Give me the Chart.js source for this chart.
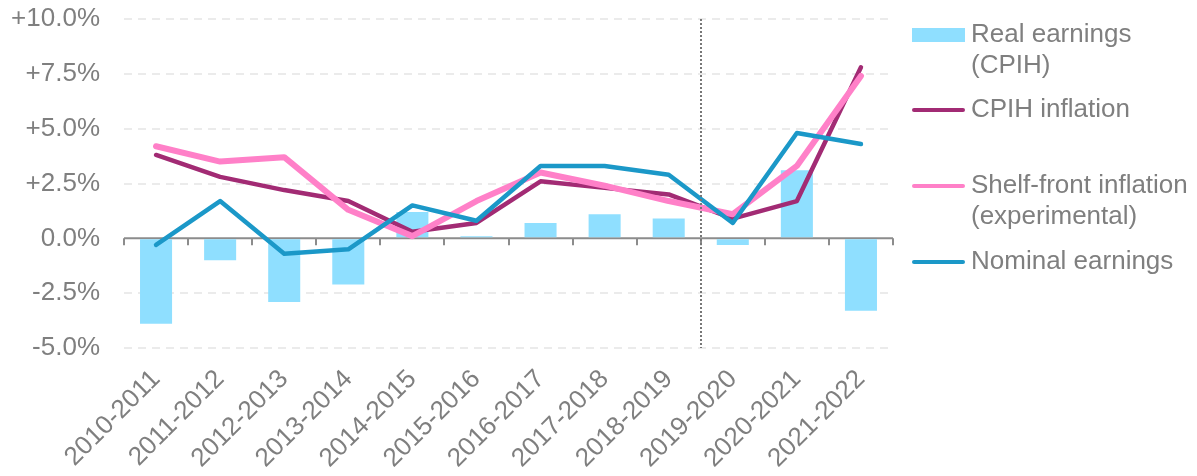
<!DOCTYPE html>
<html lang="en">
<head>
<meta charset="UTF-8">
<title>Earnings and inflation</title>
<script src="https://cdn.jsdelivr.net/npm/chart.js"></script>
<style>
  html, body { margin: 0; padding: 0; background: #fff; }
  #wrap { width: 1197px; height: 476px; }
</style>
</head>
<body>
<div id="wrap"><canvas id="chart" width="1197" height="476"></canvas></div>
<script>
const years = ['2010-2011', '2011-2012', '2012-2013', '2013-2014', '2014-2015', '2015-2016',
               '2016-2017', '2017-2018', '2018-2019', '2019-2020', '2020-2021', '2021-2022'];
const realEarnings = [-3.9, -1.0, -2.9, -2.1, 1.2, 0.1, 0.7, 1.1, 0.9, -0.3, 3.1, -3.3];
const cpihInflation = [3.8, 2.8, 2.2, 1.7, 0.3, 0.7, 2.6, 2.3, 2.0, 0.9, 1.7, 7.8];
const shelfFront = [4.2, 3.5, 3.7, 1.3, 0.1, 1.7, 3.0, 2.4, 1.7, 1.1, 3.3, 7.4];
const nominalEarnings = [-0.3, 1.7, -0.7, -0.5, 1.5, 0.8, 3.3, 3.3, 2.9, 0.7, 4.8, 4.3];
const yTicks = [-5, -2.5, 0, 2.5, 5, 7.5, 10];
const splitAfter = 8; // dotted line between 2018-2019 and 2019-2020

const grey = '#7f7f7f';
const font = 'Arial, "Liberation Sans", sans-serif';

// zero line with tick marks, plus the dotted divider
const axisLines = {
    id: 'axisLines',
    beforeDatasetsDraw(chart) {
        const { ctx, chartArea, scales } = chart;
        const y0 = scales.y.getPixelForValue(0);
        const step = (chartArea.right - chartArea.left) / years.length;
        ctx.save();
        ctx.strokeStyle = '#8c8c8c';
        ctx.lineWidth = 2;
        ctx.beginPath();
        ctx.moveTo(chartArea.left, y0);
        ctx.lineTo(chartArea.right, y0);
        for (let i = 0; i <= years.length; i++) {
            const x = Math.round(chartArea.left + i * step);
            ctx.moveTo(x, y0);
            ctx.lineTo(x, y0 + 7);
        }
        ctx.stroke();
        ctx.restore();
    },
    afterDatasetsDraw(chart) {
        const { ctx, chartArea } = chart;
        const step = (chartArea.right - chartArea.left) / years.length;
        const x = Math.round(chartArea.left + (splitAfter + 1) * step);
        ctx.save();
        ctx.strokeStyle = '#777';
        ctx.lineWidth = 2;
        ctx.setLineDash([2, 2]);
        ctx.beginPath();
        ctx.moveTo(x, chartArea.top);
        ctx.lineTo(x, chartArea.bottom);
        ctx.stroke();
        ctx.restore();
    }
};

// legend at right, labels may have two lines
const sideLegend = {
    id: 'sideLegend',
    afterDraw(chart) {
        const { ctx } = chart;
        const x0 = 912, x1 = 965, tx = 971;
        const slots = [35, 110, 186, 262];
        ctx.save();
        ctx.font = '26px ' + font;
        ctx.textBaseline = 'middle';
        chart.data.datasets.forEach((ds, k) => {
            const y = slots[k];
            if (ds.type === 'bar') {
                ctx.fillStyle = ds.backgroundColor;
                ctx.fillRect(x0, y - 7, x1 - x0, 14);
            } else {
                ctx.strokeStyle = ds.borderColor;
                ctx.lineWidth = 4;
                ctx.lineCap = 'round';
                ctx.beginPath();
                ctx.moveTo(x0 + 2, y);
                ctx.lineTo(x1 - 2, y);
                ctx.stroke();
            }
            ctx.fillStyle = grey;
            const lines = Array.isArray(ds.label) ? ds.label : [ds.label];
            lines.forEach((t, j) => ctx.fillText(t, tx, y + j * 31));
        });
        ctx.restore();
    }
};

const lineStyle = { pointRadius: 0, tension: 0, borderCapStyle: 'round', borderJoinStyle: 'round' };

new Chart(document.getElementById('chart'), {
    type: 'bar',
    data: {
        labels: years,
        datasets: [
            {
                type: 'bar',
                label: ['Real earnings', '(CPIH)'],
                data: realEarnings,
                backgroundColor: '#8fdfff',
                barPercentage: 0.5,
                categoryPercentage: 1,
                order: 4
            },
            {
                type: 'line',
                label: 'CPIH inflation',
                data: cpihInflation,
                borderColor: '#a22b74',
                borderWidth: 4.5,
                ...lineStyle,
                order: 3
            },
            {
                type: 'line',
                label: ['Shelf-front inflation', '(experimental)'],
                data: shelfFront,
                borderColor: '#ff80c8',
                borderWidth: 6,
                ...lineStyle,
                order: 2
            },
            {
                type: 'line',
                label: 'Nominal earnings',
                data: nominalEarnings,
                borderColor: '#1b98c8',
                borderWidth: 4.5,
                ...lineStyle,
                order: 1
            }
        ]
    },
    options: {
        responsive: false,
        animation: false,
        layout: { padding: { top: 19, right: 304, left: 0, bottom: 0 } },
        plugins: {
            legend: { display: false },
            tooltip: { enabled: false }
        },
        scales: {
            x: {
                offset: true,
                grid: { display: false },
                border: { display: false },
                ticks: {
                    color: grey,
                    font: { size: 26, family: font },
                    minRotation: 45,
                    maxRotation: 45,
                    padding: 8
                },
                afterFit(scale) {
                    scale.height = 128;
                    scale.paddingLeft = 0;
                    scale.paddingRight = 0;
                }
            },
            y: {
                min: -5,
                max: 10,
                afterBuildTicks(scale) { scale.ticks = yTicks.map(v => ({ value: v })); },
                grid: {
                    color: c => c.tick && c.tick.value === 0 ? 'rgba(0,0,0,0)' : '#ebebeb',
                    lineWidth: 2,
                    drawTicks: false
                },
                border: { display: false, dash: [8, 6] },
                ticks: {
                    color: grey,
                    font: { size: 26, family: font },
                    padding: 24,
                    callback: v => (v > 0 ? '+' : '') + v.toFixed(1) + '%'
                },
                afterFit(scale) {
                    scale.width = 124;
                    scale.paddingTop = 0;
                    scale.paddingBottom = 0;
                }
            }
        }
    },
    plugins: [axisLines, sideLegend]
});
</script>
</body>
</html>
